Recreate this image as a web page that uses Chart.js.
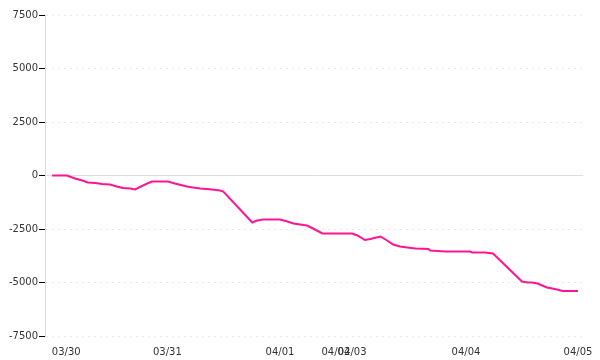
<!DOCTYPE html>
<html>
<head>
<meta charset="utf-8">
<script src="https://cdn.jsdelivr.net/npm/chart.js@4/dist/chart.umd.min.js"></script>
<style>
  html, body { margin: 0; padding: 0; background: #fff; }
  #wrap { width: 600px; height: 360px; }
</style>
</head>
<body>
<div id="wrap"><canvas id="pnlChart"></canvas></div>
<script>
// session step of each sample (x) and cumulative P&L (y)
const steps = [0, 2.2, 3.4, 4.5, 5.3, 6.4, 7.4, 8.6, 9.6, 10.5, 11.6, 12.3, 13.8, 14.8, 17.2,
  18.2, 19.4, 20.0, 20.9, 22.0, 23.7, 24.9, 25.4, 29.7, 30.4, 31.3, 33.8, 34.9, 35.8, 36.8,
  37.8, 38.7, 40.1, 44.5, 45.3, 46.4, 47.2, 48.7, 49.7, 50.6, 51.6, 52.7, 53.9, 55.8, 56.1,
  58.3, 62.0, 62.3, 64.2, 65.4, 69.7, 70.5, 71.2, 72.0, 72.7, 73.4, 74.2, 74.9, 75.7, 78.0];
const pnl = [0, 0, -140, -234, -327, -350, -397, -420, -514, -584, -607, -654, -420, -280, -280,
  -374, -467, -514, -561, -607, -654, -701, -748, -2196, -2103, -2056, -2056, -2150, -2243, -2290,
  -2337, -2477, -2710, -2710, -2804, -3014, -2967, -2850, -3037, -3224, -3318, -3365, -3411, -3435, -3505,
  -3551, -3551, -3598, -3598, -3645, -4953, -5000, -5000, -5047, -5140, -5234, -5281, -5327, -5397, -5397];

// date labels and where each day starts on the step axis
const dayLabels = ["03/30", "03/31", "04/01", "04/02", "04/03", "04/04", "04/05"];
const dayStarts = [2.1, 17.1, 33.8, 42.1, 44.5, 61.4, 78.0];

const yTicks = [-7500, -5000, -2500, 0, 2500, 5000, 7500];

const points = steps.map((s, i) => ({ x: s, y: pnl[i] }));
const font = { family: "DejaVu Sans", size: 10 };

new Chart(document.getElementById("pnlChart"), {
  type: "line",
  data: {
    datasets: [{
      data: points,
      borderColor: "#ff1493",
      borderWidth: 2,
      pointRadius: 0,
      tension: 0,
      fill: false
    }]
  },
  options: {
    responsive: true,
    maintainAspectRatio: false,
    animation: false,
    layout: { padding: { top: 15, right: 17, left: 0, bottom: 0 } },
    plugins: { legend: { display: false }, tooltip: { enabled: false } },
    scales: {
      x: {
        type: "linear",
        min: -1.05,
        max: 78.75,
        grid: { display: false },
        border: { display: false },
        afterBuildTicks: (scale) => {
          scale.ticks = dayStarts.map(v => ({ value: v }));
        },
        afterFit: (scale) => { scale.height = 24; },
        ticks: {
          autoSkip: false,
          maxRotation: 0,
          padding: 2,
          color: "#333",
          font: font,
          callback: (value) => dayLabels[dayStarts.indexOf(value)]
        }
      },
      y: {
        min: -7500,
        max: 7500,
        afterBuildTicks: (scale) => {
          scale.ticks = yTicks.map(v => ({ value: v }));
        },
        afterFit: (scale) => { scale.width = 45; },
        grid: {
          color: (ctx) => (ctx.tick && ctx.tick.value === 0 ? "#dddddd" : "#e8e8e8"),
          tickColor: "#000",
          tickLength: 6,
          lineWidth: 1
        },
        border: {
          color: "#dddddd",
          dash: (ctx) => (ctx.tick && ctx.tick.value !== 0 ? [2, 4] : [])
        },
        ticks: {
          padding: 1,
          color: "#333",
          font: font,
          callback: (value) => String(value)
        }
      }
    }
  }
});
</script>
</body>
</html>
